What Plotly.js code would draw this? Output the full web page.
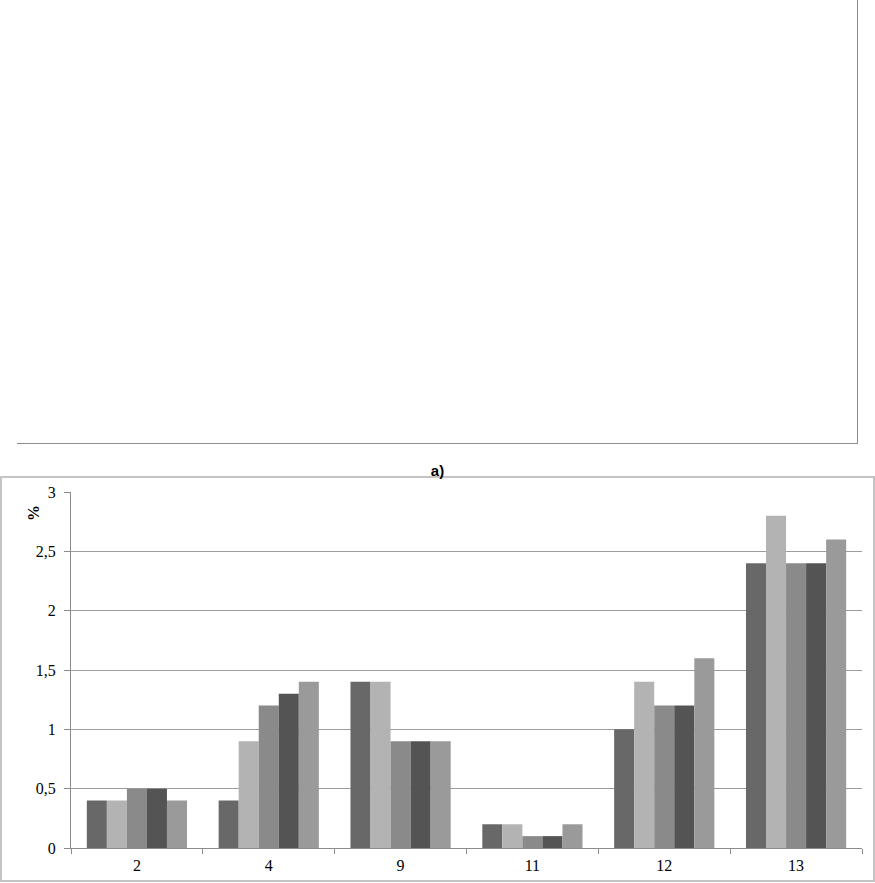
<!DOCTYPE html>
<html>
<head>
<meta charset="utf-8">
<script src="https://cdn.plot.ly/plotly-3.0.1.min.js"></script>
<style>
  body { margin: 0; background: #fff; }
  #page { position: relative; width: 875px; height: 883px; overflow: hidden; }
  #topFrame {
    position: absolute; left: 17px; top: -2px; width: 840px; height: 445px;
    border-right: 1px solid #8c8c8c; border-bottom: 1px solid #8c8c8c;
  }
  #box {
    position: absolute; left: 0px; top: 476px; width: 871px; height: 402px;
    border: 2px solid #c4c4c4;
  }
  #chart { position: absolute; left: 0; top: 0; width: 875px; height: 883px; }
</style>
</head>
<body>
<div id="page">
  <div id="topFrame"></div>
  <div id="box"></div>
  <div id="chart"></div>
</div>
<script>
// categories and values per series (5 series, unlabeled in the source)
const categories = ["2", "4", "9", "11", "12", "13"];
const series1 = [0.4, 0.4, 1.4, 0.2, 1.0, 2.4];
const series2 = [0.4, 0.9, 1.4, 0.2, 1.4, 2.8];
const series3 = [0.5, 1.2, 0.9, 0.1, 1.2, 2.4];
const series4 = [0.5, 1.3, 0.9, 0.1, 1.2, 2.4];
const series5 = [0.4, 1.4, 0.9, 0.2, 1.6, 2.6];

const allSeries = [series1, series2, series3, series4, series5];
const colors = ["#686868", "#b3b3b3", "#8a8a8a", "#545454", "#9a9a9a"];

const serif = "Liberation Serif, Times New Roman, serif";

const traces = allSeries.map((vals, i) => ({
  x: categories,
  y: vals,
  type: "bar",
  name: "Series " + (i + 1),
  marker: { color: colors[i], line: { width: 0 } },
  hoverinfo: "y",
}));

const layout = {
  width: 875,
  height: 883,
  paper_bgcolor: "rgba(0,0,0,0)",
  plot_bgcolor: "rgba(0,0,0,0)",
  separators: ", ",
  showlegend: false,
  barmode: "group",
  bargap: 0.24,
  bargroupgap: 0,
  margin: { l: 71, r: 13, t: 492, b: 35, pad: 0 },
  font: { family: serif, size: 16, color: "#000" },
  title: {
    text: "<b>a)</b>",
    font: { family: "Liberation Sans, Arial, sans-serif", size: 15, color: "#000" },
    x: 0.5,
    xanchor: "center",
    y: 1 - 471 / 883,
    yanchor: "middle",
  },
  xaxis: {
    type: "category",
    showline: true,
    linecolor: "#8c8c8c",
    linewidth: 1,
    ticks: "outside",
    tickson: "boundaries",
    ticklen: 5,
    tickcolor: "#8c8c8c",
    ticklabelstandoff: 3,
    showgrid: false,
    zeroline: false,
    tickfont: { family: serif, size: 16 },
  },
  yaxis: {
    range: [0, 3],
    dtick: 0.5,
    tick0: 0,
    showline: true,
    linecolor: "#8c8c8c",
    linewidth: 1,
    ticks: "outside",
    ticklen: 6,
    tickcolor: "#8c8c8c",
    ticklabelstandoff: 5,
    showgrid: true,
    gridcolor: "#9c9c9c",
    gridwidth: 1,
    zeroline: false,
    tickfont: { family: serif, size: 16 },
  },
  annotations: [
    {
      text: "<b>%</b>",
      xref: "paper",
      yref: "paper",
      x: (33 - 71) / 791,
      y: (848 - 513) / 356,
      xanchor: "center",
      yanchor: "middle",
      showarrow: false,
      textangle: -90,
      font: { family: serif, size: 16, color: "#000" },
    },
  ],
};

Plotly.newPlot("chart", traces, layout, { displayModeBar: false, staticPlot: true });
</script>
</body>
</html>
